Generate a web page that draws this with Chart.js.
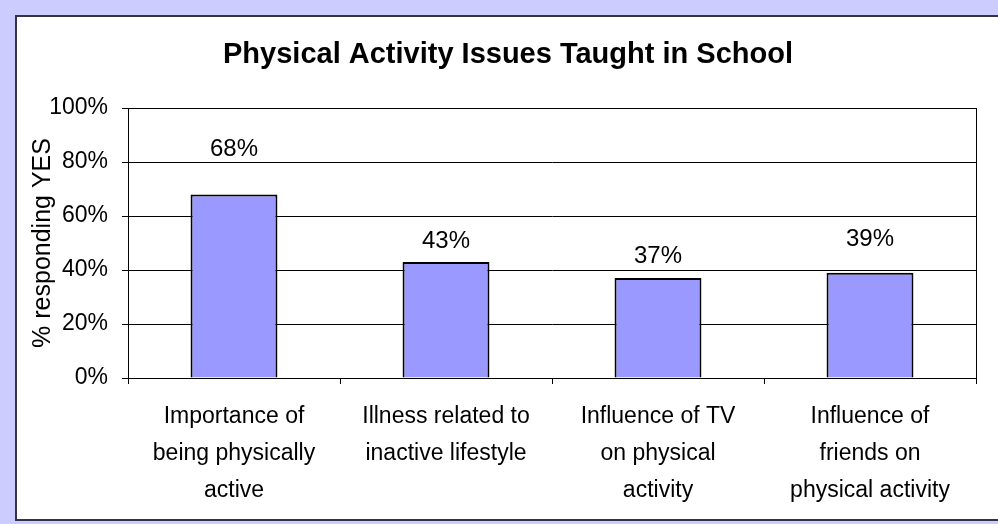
<!DOCTYPE html>
<html>
<head>
<meta charset="utf-8">
<script src="https://cdn.jsdelivr.net/npm/chart.js@4.4.1/dist/chart.umd.min.js"></script>
<style>
  html, body { margin: 0; padding: 0; background: #ccccff; overflow: hidden; }
  #panel { position: absolute; left: 15px; top: 15px; width: 1100px; height: 502px; border: 2px solid #333344; background: #fff; }
  #wrap { position: absolute; left: 0; top: 0; width: 998px; height: 524px; }
</style>
</head>
<body>
<div id="panel"></div>
<div id="wrap"><canvas id="chart" width="998" height="524"></canvas></div>
<script>
const chartTitle = "Physical Activity Issues Taught in School";
const categories = [
  ["Importance of", "being physically", "active"],
  ["Illness related to", "inactive lifestyle"],
  ["Influence of TV", "on physical", "activity"],
  ["Influence of", "friends on", "physical activity"]
];
const yesPercent = [68, 43, 37, 39];
const valueLabels = ["68%", "43%", "37%", "39%"];
const yTickValues = [0, 20, 40, 60, 80, 100];

const FONT = 'Arial, "Liberation Sans", sans-serif';

// title, plot frame and value labels
const decor = {
  id: "decor",
  afterDatasetsDraw(chart) {
    const ctx = chart.ctx;
    const a = chart.chartArea;
    ctx.save();
    ctx.strokeStyle = "#000";
    ctx.lineWidth = 1;
    ctx.strokeRect(Math.round(a.left) + 0.5, Math.round(a.top) + 0.5,
      Math.round(a.right - a.left), Math.round(a.bottom - a.top));

    ctx.fillStyle = "#000";
    ctx.textAlign = "center";
    ctx.textBaseline = "middle";
    ctx.font = "24px " + FONT;
    const lift = [45, 21, 22, 33];
    chart.getDatasetMeta(0).data.forEach((bar, i) => {
      ctx.fillText(valueLabels[i], bar.x, bar.y - lift[i]);
    });

    ctx.font = "bold 29px " + FONT;
    ctx.fillText(chartTitle, 508, 55);
    ctx.restore();
  }
};

new Chart(document.getElementById("chart"), {
  type: "bar",
  data: {
    labels: categories,
    datasets: [{
      data: yesPercent,
      backgroundColor: "#9999ff",
      borderColor: "#000",
      borderWidth: 2,
      barPercentage: 0.41,
      categoryPercentage: 1
    }]
  },
  options: {
    responsive: false,
    animation: false,
    layout: { padding: { left: 0, right: 22, top: 108, bottom: 0 } },
    plugins: { legend: { display: false }, tooltip: { enabled: false }, title: { display: false } },
    scales: {
      x: {
        grid: { drawOnChartArea: false, drawTicks: true, tickLength: 6, color: "#000", offset: true },
        border: { color: "#000", width: 1 },
        ticks: { color: "#000", font: { size: 23, family: FONT, lineHeight: 37 / 23 }, padding: 14, maxRotation: 0, autoSkip: false },
        afterFit(s) { s.height = 146; }
      },
      y: {
        min: 0,
        max: 100,
        afterBuildTicks(s) { s.ticks = yTickValues.map(v => ({ value: v })); },
        grid: { color: "#000", lineWidth: 1, tickLength: 6, drawTicks: true },
        border: { color: "#000", width: 1 },
        ticks: { color: "#000", font: { size: 23, family: FONT }, padding: 14, callback: v => v + "%" },
        title: { display: true, text: "% responding YES", color: "#000", font: { size: 25, family: FONT }, padding: { top: 28, bottom: 0 } },
        afterFit(s) { s.width = 128; }
      }
    }
  },
  plugins: [decor]
});
</script>
</body>
</html>
